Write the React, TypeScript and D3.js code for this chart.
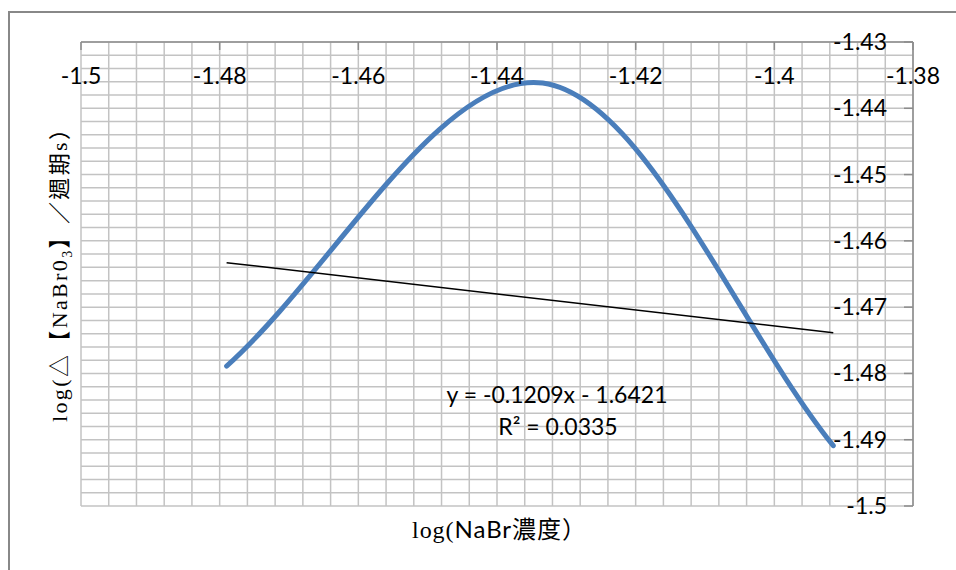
import React from "react";
import * as d3 from "d3";

// ---- data ----
const seriesX = [-1.479, -1.4334, -1.3915];
const seriesY = [-1.4789, -1.4362, -1.4909];
const trendSlope = -0.1209;
const trendIntercept = -1.6421;
const trendLabel = "y = -0.1209x - 1.6421";
const r2Label = "R² = 0.0335";
const xTicks = [-1.5, -1.48, -1.46, -1.44, -1.42, -1.4, -1.38];
const yTicks = [-1.43, -1.44, -1.45, -1.46, -1.47, -1.48, -1.49, -1.5];
const xMinorStep = 0.004;
const yMinorStep = 0.002;

const W = 956;
const H = 570;
const M = { left: 81, right: 913, top: 42, bottom: 506 };

const SANS = "Lato, 'Noto Sans', sans-serif";
const SERIF = "'Liberation Serif', 'Noto Sans CJK TC', serif";
const CJK = "'Noto Sans CJK TC', sans-serif";

// Excel-like smoothed line: Catmull-Rom with reflected phantom end points
function smoothPath(p: [number, number][]): string {
  const n = p.length;
  const ext: [number, number][] = [
    [2 * p[0][0] - p[1][0], 2 * p[0][1] - p[1][1]],
    ...p,
    [2 * p[n - 1][0] - p[n - 2][0], 2 * p[n - 1][1] - p[n - 2][1]],
  ];
  const path = d3.path();
  path.moveTo(p[0][0], p[0][1]);
  for (let i = 1; i < ext.length - 2; i++) {
    const p0 = ext[i - 1], p1 = ext[i], p2 = ext[i + 1], p3 = ext[i + 2];
    const c1x = p1[0] + (p2[0] - p0[0]) / 6;
    const c1y = p1[1] + (p2[1] - p0[1]) / 6;
    const c2x = p2[0] - (p3[0] - p1[0]) / 6;
    const c2y = p2[1] - (p3[1] - p1[1]) / 6;
    path.bezierCurveTo(c1x, c1y, c2x, c2y, p2[0], p2[1]);
  }
  return path.toString();
}

export default function App() {
  const x = d3.scaleLinear().domain([-1.5, -1.38]).range([M.left, M.right]);
  const y = d3.scaleLinear().domain([-1.5, -1.43]).range([M.bottom, M.top]);

  const xGrid = d3.range(0, Math.round(0.12 / xMinorStep) + 1).map((i) => -1.5 + i * xMinorStep);
  const yGrid = d3.range(0, Math.round(0.07 / yMinorStep) + 1).map((i) => -1.5 + i * yMinorStep);

  const pts: [number, number][] = seriesX.map((v, i) => [x(v), y(seriesY[i])]);
  const curve = smoothPath(pts);

  const tx0 = d3.min(seriesX)!;
  const tx1 = d3.max(seriesX)!;
  const trend = d3.line()([
    [x(tx0), y(trendSlope * tx0 + trendIntercept)],
    [x(tx1), y(trendSlope * tx1 + trendIntercept)],
  ]) || "";

  const gridColor = "#c3c3c3";
  const axisColor = "#8c8c8c";
  const fs = 23;

  return (
    <svg
      width={W}
      height={H}
      style={{ position: "absolute", left: 0, top: 0, background: "#fff" }}
    >
      <rect x={0} y={0} width={W} height={H} fill="#fff" />
      {/* chart outer border (cropped) */}
      <rect x={9} y={12} width={W + 20} height={H + 20} fill="none" stroke="#888" strokeWidth={2} />

      {/* grid */}
      {xGrid.map((v, i) => (
        <line key={"xg" + i} x1={x(v)} x2={x(v)} y1={M.top} y2={M.bottom} stroke={gridColor} strokeWidth={1.5} />
      ))}
      {yGrid.map((v, i) => (
        <line key={"yg" + i} x1={M.left} x2={M.right} y1={y(v)} y2={y(v)} stroke={gridColor} strokeWidth={1.5} />
      ))}

      {/* axes lines (top = x axis, right = y axis) */}
      <line x1={M.left} x2={M.right} y1={M.top} y2={M.top} stroke={axisColor} strokeWidth={1.5} />
      <line x1={M.right} x2={M.right} y1={M.top} y2={M.bottom} stroke={axisColor} strokeWidth={1.5} />
      {xTicks.map((v, i) => (
        <line key={"xt" + i} x1={x(v)} x2={x(v)} y1={M.top} y2={M.top + 8} stroke={axisColor} strokeWidth={1.5} />
      ))}
      {yTicks.map((v, i) => (
        <line key={"yt" + i} x1={M.right - 9} x2={M.right} y1={y(v)} y2={y(v)} stroke={axisColor} strokeWidth={1.5} />
      ))}

      {/* series */}
      <path d={curve} fill="none" stroke="#4a7ebb" strokeWidth={5} strokeLinecap="round" strokeLinejoin="round" />
      <path d={trend} fill="none" stroke="#000" strokeWidth={1.5} />

      {/* tick labels */}
      {xTicks.map((v, i) => (
        <text key={"xl" + i} x={x(v)} y={M.top + 42} textAnchor="middle" fontFamily={SANS} fontSize={fs} fill="#000">
          {String(v)}
        </text>
      ))}
      {yTicks.map((v, i) => (
        <text key={"yl" + i} x={887} y={y(v) + 8} textAnchor="end" fontFamily={SANS} fontSize={fs} fill="#000">
          {String(v)}
        </text>
      ))}

      {/* trendline label */}
      <text x={557} y={403} textAnchor="middle" fontFamily={SANS} fontSize={fs} fill="#000">
        {trendLabel}
      </text>
      <text x={558} y={435} textAnchor="middle" fontFamily={SANS} fontSize={fs} fill="#000">
        {r2Label}
      </text>

      {/* x axis title */}
      <text x={412} y={538} textAnchor="start" fontSize={24} fill="#000" textLength={174} lengthAdjust="spacing">
        <tspan fontFamily={SERIF}>log(</tspan>
        <tspan fontFamily={SANS}>NaBr</tspan>
        <tspan fontFamily={CJK}>濃度）</tspan>
      </text>

      {/* y axis title */}
      <text
        transform={`translate(67,422) rotate(-90)`}
        textAnchor="start"
        fontSize={22}
        fill="#000"
        fontFamily={SERIF}
        textLength={304}
        lengthAdjust="spacing"
      >
        <tspan>log(</tspan>
        <tspan fontFamily={CJK}>△【</tspan>
        <tspan>NaBr0</tspan>
        <tspan fontSize={14} dy={5}>3</tspan>
        <tspan fontFamily={CJK} dy={-5}>】／週期</tspan>
        <tspan>s</tspan>
        <tspan fontFamily={CJK}>）</tspan>
      </text>
    </svg>
  );
}
